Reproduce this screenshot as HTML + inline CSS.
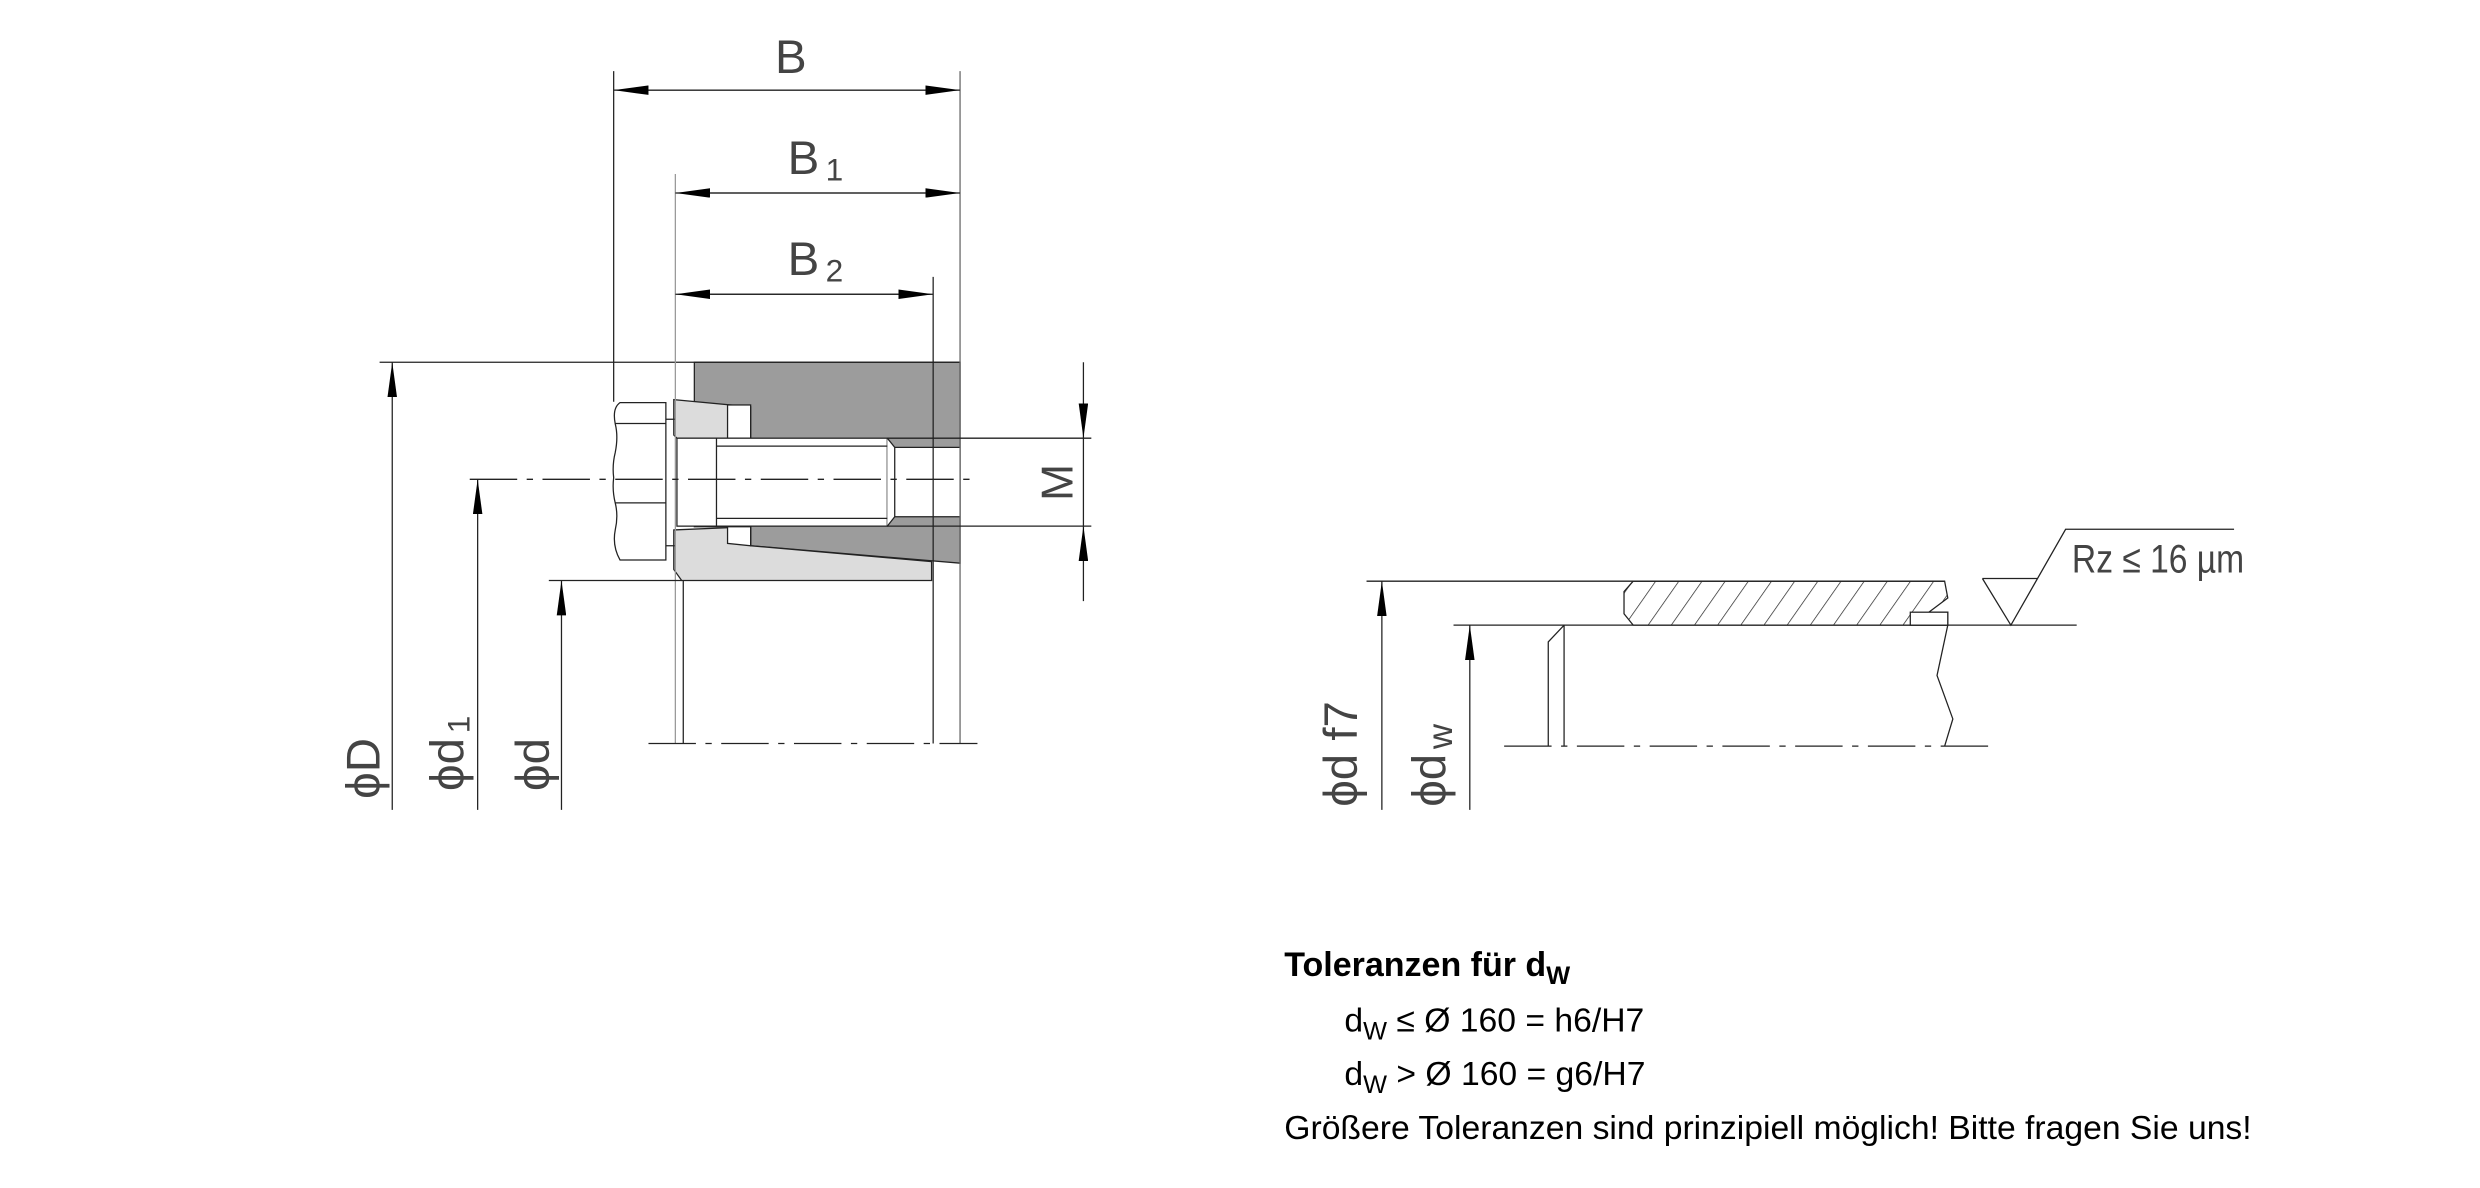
<!DOCTYPE html>
<html><head><meta charset="utf-8"><style>
html,body{margin:0;padding:0;background:#fff;}
svg{display:block;}
.t{font-family:"Liberation Sans",sans-serif;fill:#000;}
.d{font-family:"Liberation Sans",sans-serif;fill:#444;font-weight:300;}
</style></head><body>
<svg width="2480" height="1188" viewBox="0 0 1568 751" preserveAspectRatio="none" xmlns="http://www.w3.org/2000/svg">
<defs>
<marker id="ar" viewBox="0 0 22 6" refX="22" refY="3" markerWidth="22" markerHeight="6" markerUnits="userSpaceOnUse" orient="auto"><path d="M0,0 L22,3 L0,6 Z" fill="#000"/></marker>
<pattern id="h" width="12" height="12" patternUnits="userSpaceOnUse" patternTransform="rotate(35)"><line x1="0" y1="0" x2="0" y2="12" stroke="#222" stroke-width="0.9"/></pattern>
</defs>
<g stroke="#222" stroke-width="0.8" fill="none">
<path d="M439,229 L607,229 L607,356 L474.6,345 L474.6,333 L439,333 Z" fill="#9c9c9c"/>
<path d="M426,252.6 L474.6,257.2 L474.6,277 L428,277 L426,275 Z" fill="#dcdcdc"/>
<rect x="460" y="256" width="14.6" height="21" fill="#fff"/>
<path d="M426,335 L474.6,333 L474.6,345 L589,355 L589,367 L431,367 L426,360 Z" fill="#dcdcdc"/>
<path d="M460,333 L474.6,333 L474.6,345 L460,343.5 Z" fill="#fff"/>
<rect x="428" y="277" width="133" height="55.6" fill="#fff"/>
<path d="M561,277 L565.7,282.8 L607,282.8 L607,326.7 L565.7,326.7 L561,332.6 Z" fill="#fff" stroke="none"/>
<path d="M565.7,282.8 L607,282.8 M565.7,326.7 L607,326.7 M561,277 L565.7,282.8 L565.7,326.7 L561,332.6"/>
<path d="M453,282 L561,282 M453,327.7 L561,327.7 M453,277 L453,332.6"/>
<path d="M392,254.5 L421,254.5 L421,354 L392,354 Q387,345 389,335 Q391,326 389,318 Q387,310 388,302 Q387,294 389,286 Q391,276 389,268 Q387,258 392,254.5 Z" fill="#fff"/>
<path d="M389,267.7 L421,267.7 M389,317.9 L421,317.9 M421,265 L427,265 M421,345 L427,345"/>
<path d="M240,229 L607,229"/>
<path d="M388,45 L388,254"/>
<path d="M427,110 L427,470" stroke="#999"/>
<path d="M432,367 L432,470"/>
<path d="M590,175 L590,470"/>
<path d="M607,45 L607,470" stroke="#666"/>
<path d="M347,367 L431,367"/>
<path d="M561,277 L690,277 M561,332.6 L690,332.6"/>
<path d="M297,303 L615,303" stroke-dasharray="30,6,4,6"/>
<path d="M410,470 L618,470" stroke-dasharray="30,6,4,6"/>
<path d="M410,57 L607,57" marker-end="url(#ar)"/><path d="M585,57 L388,57" marker-end="url(#ar)"/>
<path d="M449,122 L607,122" marker-end="url(#ar)"/><path d="M585,122 L427,122" marker-end="url(#ar)"/>
<path d="M449,186 L590,186" marker-end="url(#ar)"/><path d="M568,186 L427,186" marker-end="url(#ar)"/>
<path d="M248,512 L248,229" marker-end="url(#ar)"/>
<path d="M302,512 L302,303" marker-end="url(#ar)"/>
<path d="M355,512 L355,367" marker-end="url(#ar)"/>
<path d="M685,229 L685,277" marker-end="url(#ar)"/>
<path d="M685,380 L685,332.6" marker-end="url(#ar)"/>
<path d="M685,277 L685,332.6"/>
<path d="M864,367.4 L1229.5,367.4"/>
<path d="M919,395.2 L1313,395.2"/>
<path d="M1032.6,367.4 L1229.5,367.4 L1231.5,378 L1219.5,387 L1231.5,387 L1231.5,395.2 L1032.6,395.2 L1026.8,388 L1026.8,374 Z" fill="url(#h)"/>
<rect x="1207.8" y="387" width="23.7" height="8.2" fill="#fff"/>
<path d="M1231.5,395.2 L1224.7,427 L1234.7,454.5 L1229.5,471.7"/>
<path d="M988.9,395.2 L988.9,471.7 M988.9,395.2 L978.9,405.8 L978.9,471.7"/>
<path d="M951,471.7 L1259,471.7" stroke-dasharray="30,6,4,6"/>
<path d="M1253.4,365.7 L1288.5,365.7 M1253.4,365.7 L1271.4,395.2 L1306,334.6 L1412.5,334.6"/>
<path d="M873.7,512 L873.7,367.4" marker-end="url(#ar)"/>
<path d="M929.3,512 L929.3,395.2" marker-end="url(#ar)"/>
</g>
<text class="d" x="500" y="46" font-size="30" text-anchor="middle">B</text>
<text class="d" x="498" y="110" font-size="30">B<tspan font-size="20" dx="4" dy="4">1</tspan></text>
<text class="d" x="498" y="174" font-size="30">B<tspan font-size="20" dx="4" dy="4">2</tspan></text>
<text class="d" font-size="28" transform="translate(678,305) rotate(-90)" text-anchor="middle">M</text>
<text class="d" font-size="30" transform="translate(240,505) rotate(-90)">ϕD</text>
<text class="d" font-size="30" transform="translate(293,500) rotate(-90)">ϕd<tspan font-size="20" dx="3" dy="4">1</tspan></text>
<text class="d" font-size="30" transform="translate(347,500) rotate(-90)">ϕd</text>
<text class="d" font-size="30" transform="translate(858,510) rotate(-90)">ϕd f7</text>
<text class="d" font-size="30" transform="translate(914,510) rotate(-90)">ϕd<tspan font-size="22" dx="3" dy="4">w</tspan></text>
<text class="d" x="1310" y="362" font-size="25" transform="translate(1310,0) scale(0.85,1) translate(-1310,0)">Rz ≤ 16 µm</text>
<text class="t" x="812" y="617" font-size="21.5" font-weight="bold">Toleranzen für d<tspan font-size="16" dy="5">W</tspan></text>
<text class="t" x="850" y="652" font-size="21.3">d<tspan font-size="16" dy="5">W</tspan><tspan dy="-5"> ≤ Ø 160 = h6/H7</tspan></text>
<text class="t" x="850" y="686" font-size="21.3">d<tspan font-size="16" dy="5">W</tspan><tspan dy="-5"> &gt; Ø 160 = g6/H7</tspan></text>
<text class="t" x="812" y="720" font-size="21.3">Größere Toleranzen sind prinzipiell möglich! Bitte fragen Sie uns!</text>
</svg>
</body></html>
